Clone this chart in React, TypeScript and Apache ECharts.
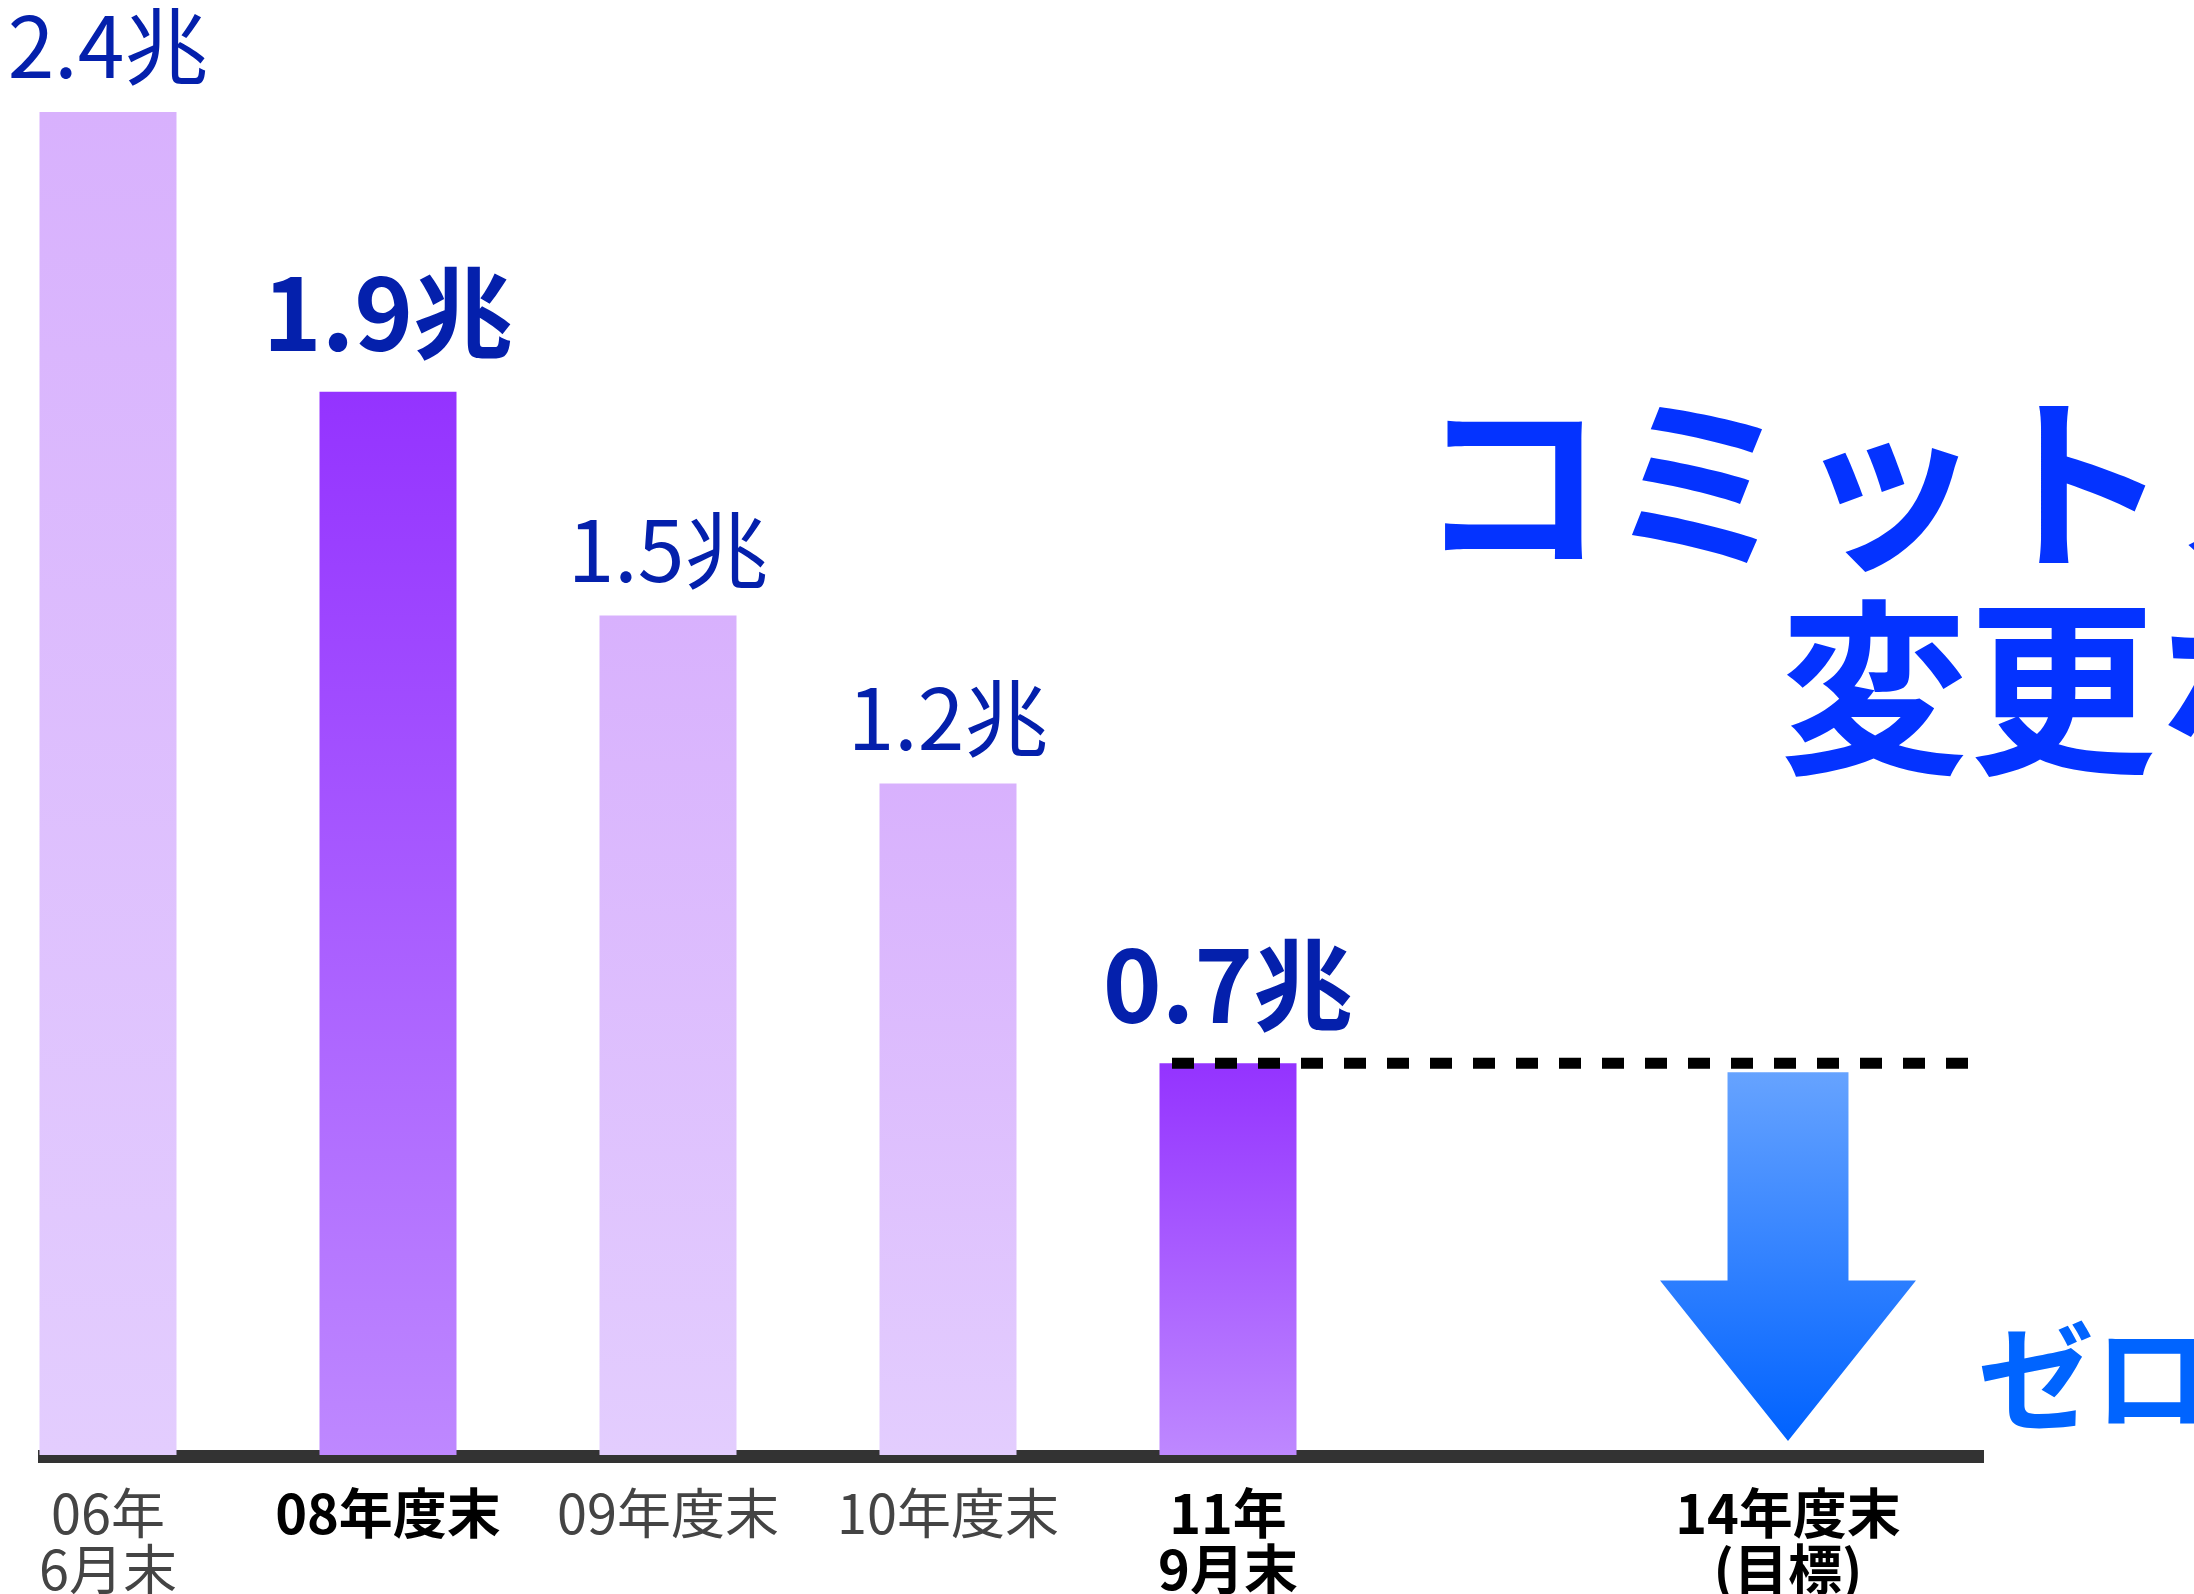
import React, { useEffect, useRef } from "react";
import * as echarts from "echarts";

// ---- data ----
const categories = ["06年\n6月末", "08年度末", "09年度末", "10年度末", "11年\n9月末", "", "14年度末\n(目標)"];
const boldCategory = [false, true, false, false, true, false, true];
const debtValues = [2.4, 1.9, 1.5, 1.2, 0.7];
const highlighted = [false, true, false, false, true];
const valueUnit = "兆";
// target arrow: [target category index, current level, target level, index of current bar]
const targetArrow = [[6, 0.7, 0, 4]];
const headline1 = "コミットメント";
const headline2 = "変更なし";
const zeroText = "ゼロへ";

const FONT = '"Noto Sans CJK JP", "Noto Sans CJK SC", sans-serif';
// the chart canvas starts a little left of the page so the first band can begin off-page
const SHIFT = 32;

export default function App() {
  const ref = useRef<HTMLDivElement>(null);
  useEffect(() => {
    if (!ref.current) return;
    const chart = echarts.init(ref.current, undefined, { renderer: "svg" });
    const lightGrad = () =>
      new echarts.graphic.LinearGradient(0, 0, 0, 1, [
        { offset: 0, color: "#D8B1FD" },
        { offset: 1, color: "#E3CDFE" },
      ]);
    const darkGrad = () =>
      new echarts.graphic.LinearGradient(0, 0, 0, 1, [
        { offset: 0, color: "#9433FF" },
        { offset: 1, color: "#BE88FF" },
      ]);
    const option: any = {
      animation: false,
      backgroundColor: "#ffffff",
      grid: { left: 0, right: 266, top: 56, bottom: 138 },
      xAxis: {
        type: "category",
        data: categories.map((c, i) => ({
          value: c,
          textStyle: boldCategory[i]
            ? { fontWeight: "bold", color: "#000000" }
            : { fontWeight: "normal", color: "#444444" },
        })),
        axisLine: { show: false },
        axisTick: { show: false },
        axisLabel: {
          interval: 0,
          margin: 27,
          fontSize: 54,
          lineHeight: 56,
          fontFamily: FONT,
        },
      },
      yAxis: { type: "value", min: 0, max: 2.5, show: false },
      graphic: [
        {
          type: "rect",
          z: 0,
          shape: { x: 38 + SHIFT, y: 1450, width: 1946, height: 13 },
          style: { fill: "#333333" },
        },
        {
          type: "text",
          x: 1418 + SHIFT,
          y: 472,
          style: {
            text: headline1,
            font: `bold 188px ${FONT}`,
            fill: "#0433FF",
            textVerticalAlign: "middle",
            verticalAlign: "middle",
          },
        },
        {
          type: "text",
          x: 1780 + SHIFT,
          y: 677,
          style: {
            text: headline2,
            font: `bold 188px ${FONT}`,
            fill: "#0433FF",
            textVerticalAlign: "middle",
            verticalAlign: "middle",
          },
        },
        {
          type: "text",
          x: 1978 + SHIFT,
          y: 1370,
          style: {
            text: zeroText,
            font: `bold 116px ${FONT}`,
            fill: "#0064FF",
            textVerticalAlign: "middle",
            verticalAlign: "middle",
          },
        },
      ],
      series: [
        {
          type: "bar",
          z: 2,
          barWidth: 137,
          data: debtValues.map((v, i) => ({
            value: v,
            itemStyle: { color: highlighted[i] ? darkGrad() : lightGrad() },
            label: {
              fontSize: highlighted[i] ? 100 : 84,
              fontWeight: highlighted[i] ? "bold" : "normal",
              distance: highlighted[i] ? 34 : 28,
            },
          })),
          label: {
            show: true,
            position: "top",
            color: "#0420AC",
            fontFamily: FONT,
            formatter: (p: any) => `${p.value}${valueUnit}`,
          },
        },
        {
          type: "custom",
          z: 3,
          clip: false,
          encode: { x: 0, y: 1 },
          data: targetArrow,
          renderItem: (params: any, api: any) => {
            const idx = api.value(0);
            const from = api.value(1);
            const to = api.value(2);
            const fromIdx = api.value(3);
            const top = api.coord([idx, from]);
            const bottom = api.coord([idx, to]);
            const band = api.size([1, 0])[0];
            const cx = top[0];
            const shaftHalf = band * 0.216;
            const headHalf = band * 0.457;
            const headLen = band * 0.573;
            const yTop = top[1] + band * 0.032;
            const yTip = bottom[1] - band * 0.05;
            const yHead = yTip - headLen;
            const startBar = api.coord([fromIdx, from]);
            const lineY = startBar[1];
            return {
              type: "group",
              children: [
                {
                  type: "polygon",
                  shape: {
                    points: [
                      [cx - shaftHalf, yTop],
                      [cx + shaftHalf, yTop],
                      [cx + shaftHalf, yHead],
                      [cx + headHalf, yHead],
                      [cx, yTip],
                      [cx - headHalf, yHead],
                      [cx - shaftHalf, yHead],
                    ],
                  },
                  style: {
                    fill: new echarts.graphic.LinearGradient(0, 0, 0, 1, [
                      { offset: 0, color: "#66A3FF" },
                      { offset: 1, color: "#0062FF" },
                    ]),
                  },
                },
                {
                  type: "line",
                  shape: {
                    x1: startBar[0] - band * 0.2,
                    y1: lineY,
                    x2: cx + band * 0.7,
                    y2: lineY,
                  },
                  style: { stroke: "#000000", lineWidth: 11, lineDash: [22, 21] },
                },
              ],
            };
          },
        },
      ],
    };
    chart.setOption(option);
    return () => chart.dispose();
  }, []);
  return (
    <div
      style={{ position: "fixed", left: 0, top: 0, width: 2194, height: 1594, overflow: "hidden", background: "#fff" }}
    >
      <div
        ref={ref}
        style={{ position: "absolute", left: -SHIFT, top: 0, width: 2194 + SHIFT, height: 1594 }}
      />
    </div>
  );
}
